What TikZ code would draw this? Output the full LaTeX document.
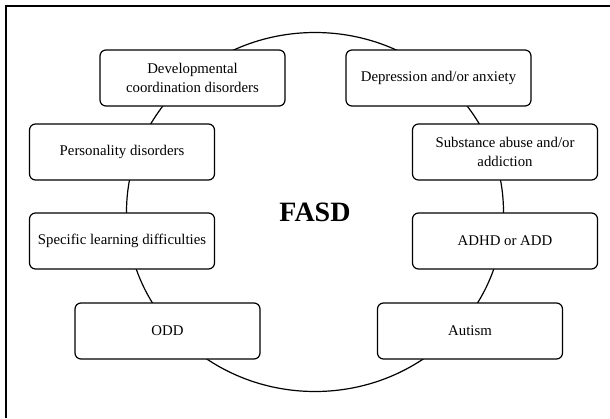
\documentclass[tikz,border=0pt]{standalone}
\usepackage{fontspec}
\setmainfont{Liberation Serif}
\usetikzlibrary{shapes.geometric}
\begin{document}
\begin{tikzpicture}[
      x=1pt, y=-1pt,
      disorder/.style={line width=1.2pt, draw, fill=white, rounded corners=6pt, minimum width=185pt, minimum height=56pt, inner sep=0, align=center, font=\fontsize{14.8}{18.5}\selectfont},
      ring/.style={line width=1.2pt, draw, ellipse, inner sep=0, minimum width=377pt, minimum height=359pt, font=\fontsize{28}{32}\selectfont\bfseries},
      frame/.style={line width=1.2pt}
    ]
    \useasboundingbox (0,0) rectangle (610,418);
    \coordinate (framelow) at (6,418);
    \coordinate (framecorner) at (6,6);
    \coordinate (framehigh) at (610,6);
    \draw[frame] (framelow) -- (framecorner) -- (framehigh);
    \node[ring] (fasd) at (315,212) {FASD};
    % left side
    \node[disorder] (dev) at (192.5,78) {Developmental\\coordination disorders};
    \node[disorder] (pers) at (122,152) {Personality disorders};
    \node[disorder] (spec) at (122,241) {Specific learning difficulties};
    \node[disorder] (odd) at (167.5,331) {ODD};
    % right side
    \node[disorder] (dep) at (438.5,78) {Depression and/or anxiety};
    \node[disorder] (sub) at (505,152) {Substance abuse and/or\\addiction};
    \node[disorder] (adhd) at (505,241) {ADHD or ADD};
    \node[disorder] (aut) at (470,331) {Autism};
\end{tikzpicture}
\end{document}
